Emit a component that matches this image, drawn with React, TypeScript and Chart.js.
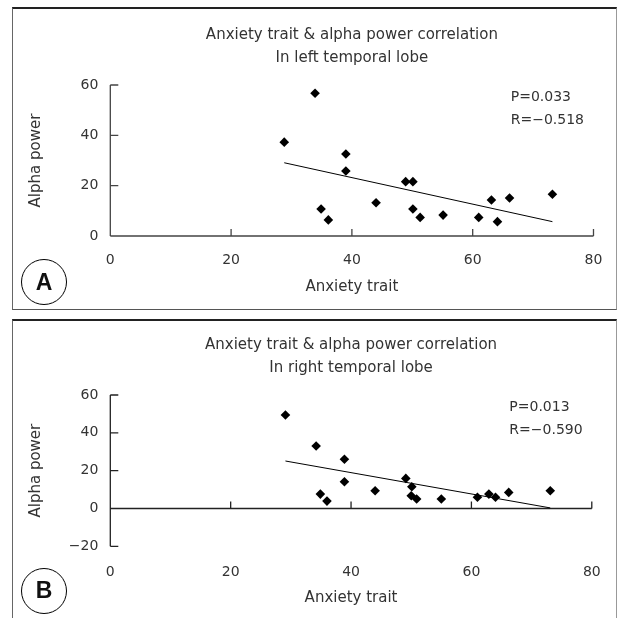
import React, { useEffect, useRef } from 'react';
import { Chart, registerables } from 'chart.js';

Chart.register(...registerables);

// ---------- data ----------
const leftX = [28.8, 33.9, 39.0, 39.0, 34.9, 36.1, 44.0, 48.9, 50.1, 50.1, 51.3, 55.1, 61.0, 63.1, 64.1, 66.1, 73.2];
const leftY = [37.3, 56.7, 32.6, 25.8, 10.7, 6.4, 13.2, 21.6, 21.6, 10.7, 7.4, 8.3, 7.4, 14.3, 5.7, 15.1, 16.6];
const leftTrendX = [28.8, 73.2];
const leftTrendY = [29.1, 5.7];

const rightX = [29.1, 34.2, 38.9, 38.9, 34.9, 36.0, 44.0, 49.1, 50.1, 50.0, 50.9, 55.0, 61.0, 62.9, 64.0, 66.2, 73.1];
const rightY = [49.4, 33.0, 26.0, 14.1, 7.6, 3.9, 9.4, 15.9, 11.5, 6.7, 5.0, 5.0, 5.9, 7.6, 5.9, 8.5, 9.4];
const rightTrendX = [29.1, 73.1];
const rightTrendY = [25.1, 0.3];

const titleLine1 = 'Anxiety trait & alpha power correlation';
const leftTitle2 = 'In left temporal lobe';
const rightTitle2 = 'In right temporal lobe';
const leftStats = ['P=0.033', 'R=\u22120.518'];
const rightStats = ['P=0.013', 'R=\u22120.590'];
const xTitle = 'Anxiety trait';
const yTitle = 'Alpha power';
const xRange = [0, 80];
const leftYRange = [0, 60];
const rightYRange = [-20, 60];
const tickStep = 20;
const statsX = 66.3;

const FONT = '"DejaVu Sans", "Liberation Sans", sans-serif';
const TEXT = '#333';

const toPts = (xs: number[], ys: number[]) => xs.map((x, i) => ({ x, y: ys[i] }));

const axesPlugin = {
  id: 'customAxes',
  beforeDatasetsDraw(chart: any, _args: any, opts: any) {
    const { ctx } = chart;
    const x = chart.scales.x;
    const y = chart.scales.y;
    const x0 = x.getPixelForValue(x.min);
    const y0 = y.getPixelForValue(0);
    ctx.save();
    ctx.strokeStyle = opts.color;
    ctx.lineWidth = opts.width;
    ctx.beginPath();
    ctx.moveTo(x0, y.getPixelForValue(y.max));
    ctx.lineTo(x0, y.getPixelForValue(y.min));
    ctx.moveTo(x0, y0);
    ctx.lineTo(x.getPixelForValue(x.max), y0);
    y.ticks.forEach((t: any) => {
      const py = y.getPixelForValue(t.value);
      ctx.moveTo(x0, py);
      ctx.lineTo(x0 + 8, py);
    });
    x.ticks.forEach((t: any) => {
      if (t.value === x.min) return;
      const px = x.getPixelForValue(t.value);
      ctx.moveTo(px, y0);
      ctx.lineTo(px, y0 - 7);
    });
    ctx.stroke();
    ctx.restore();
  },
};

const textPlugin = {
  id: 'panelText',
  afterDraw(chart: any, _args: any, opts: any) {
    const { ctx, chartArea } = chart;
    const x = chart.scales.x;
    ctx.save();
    ctx.fillStyle = TEXT;
    ctx.textBaseline = 'middle';
    ctx.textAlign = 'center';
    ctx.font = `15px ${FONT}`;
    const cx = (chartArea.left + chartArea.right) / 2;
    ctx.fillText(opts.title[0], cx, chartArea.top - 49.5);
    ctx.fillText(opts.title[1], cx, chartArea.top - 27);
    ctx.textAlign = 'left';
    ctx.font = `14px ${FONT}`;
    const sx = x.getPixelForValue(statsX);
    ctx.fillText(opts.stats[0], sx, chartArea.top + 12.5);
    ctx.fillText(opts.stats[1], sx, chartArea.top + 35);
    ctx.restore();
  },
};

type PanelProps = {
  top: number;
  height: number;
  xs: number[];
  ys: number[];
  tx: number[];
  ty: number[];
  yRange: number[];
  title2: string;
  stats: string[];
  padTop: number;
  xScaleHeight: number;
  xTickPad: number;
  xTitlePad: number;
  axisColor: string;
};

function Panel(p: PanelProps) {
  const ref = useRef<HTMLCanvasElement>(null);
  useEffect(() => {
    if (!ref.current) return;
    const tickFont = { family: FONT, size: 14 };
    const titleFont = { family: FONT, size: 15, lineHeight: 1.2 };
    const chart = new Chart(ref.current, {
      type: 'scatter',
      data: {
        datasets: [
          {
            data: toPts(p.tx, p.ty),
            showLine: true,
            borderColor: '#000',
            borderWidth: 1,
            pointRadius: 0,
            pointHoverRadius: 0,
            order: 2,
          },
          {
            data: toPts(p.xs, p.ys),
            pointStyle: 'rectRot',
            pointRadius: 4.8,
            pointHoverRadius: 4.8,
            backgroundColor: '#000',
            borderColor: '#000',
            borderWidth: 0,
            order: 1,
          },
        ],
      },
      options: {
        responsive: false,
        animation: false,
        devicePixelRatio: 1,
        events: [],
        layout: { padding: { left: 0, right: 22, top: p.padTop, bottom: 0 } },
        plugins: {
          legend: { display: false },
          tooltip: { enabled: false },
          title: { display: false },
          customAxes: { color: p.axisColor, width: 1.3 },
          panelText: { title: [titleLine1, p.title2], stats: p.stats },
        } as any,
        scales: {
          x: {
            type: 'linear',
            min: xRange[0],
            max: xRange[1],
            ticks: { stepSize: tickStep, padding: p.xTickPad, font: tickFont, color: TEXT },
            grid: { display: false, drawTicks: false },
            border: { display: false },
            title: {
              display: true,
              text: xTitle,
              font: titleFont,
              color: TEXT,
              padding: { top: 0, bottom: p.xTitlePad },
            },
            afterFit: (s: any) => {
              s.height = p.xScaleHeight;
            },
          },
          y: {
            type: 'linear',
            min: p.yRange[0],
            max: p.yRange[1],
            ticks: {
              stepSize: tickStep,
              padding: 12,
              font: tickFont,
              color: TEXT,
              callback: (v: any) => (v < 0 ? '\u2212' + Math.abs(v) : String(v)),
            },
            grid: { display: false, drawTicks: false },
            border: { display: false },
            title: {
              display: true,
              text: yTitle,
              font: titleFont,
              color: TEXT,
              padding: { top: 27.5, bottom: 0 },
            },
            afterFit: (s: any) => {
              s.width = 110.3;
            },
          },
        },
      } as any,
      plugins: [axesPlugin, textPlugin],
    });
    return () => chart.destroy();
  }, []);
  return (
    <canvas
      ref={ref}
      width={618}
      height={p.height}
      style={{ position: 'absolute', left: 0, top: p.top, width: 618, height: p.height }}
    />
  );
}

const circleStyle = (top: number): React.CSSProperties => ({
  position: 'absolute',
  left: 21,
  top,
  width: 46,
  height: 46,
  boxSizing: 'border-box',
  border: '1px solid #000',
  borderRadius: '50%',
  display: 'flex',
  alignItems: 'center',
  justifyContent: 'center',
  fontFamily: '"Liberation Sans", Arial, sans-serif',
  fontWeight: 'bold',
  fontSize: 23,
  color: '#111',
  lineHeight: 1,
});

export default function App() {
  return (
    <div
      style={{
        position: 'fixed',
        left: 0,
        top: 0,
        width: 618,
        height: 618,
        background: '#fff',
        overflow: 'hidden',
      }}
    >
      <div
        style={{
          position: 'absolute',
          left: 12,
          top: 7,
          width: 605,
          height: 303,
          boxSizing: 'border-box',
          borderTop: '2px solid #222',
          borderLeft: '1.5px solid #666',
          borderRight: '1px solid #999',
          borderBottom: '1.5px solid #555',
        }}
      />
      <div
        style={{
          position: 'absolute',
          left: 12,
          top: 319,
          width: 605,
          height: 320,
          boxSizing: 'border-box',
          borderTop: '2px solid #222',
          borderLeft: '1.5px solid #666',
          borderRight: '1px solid #999',
        }}
      />
      <Panel
        top={0}
        height={312}
        xs={leftX}
        ys={leftY}
        tx={leftTrendX}
        ty={leftTrendY}
        yRange={leftYRange}
        title2={leftTitle2}
        stats={leftStats}
        padTop={85}
        xScaleHeight={76}
        xTickPad={15.6}
        xTitlePad={16}
        axisColor="#444"
      />
      <Panel
        top={312}
        height={306}
        xs={rightX}
        ys={rightY}
        tx={rightTrendX}
        ty={rightTrendY}
        yRange={rightYRange}
        title2={rightTitle2}
        stats={rightStats}
        padTop={83}
        xScaleHeight={71.7}
        xTickPad={17.3}
        xTitlePad={11}
        axisColor="#222"
      />
      <div style={circleStyle(259)}>A</div>
      <div style={circleStyle(567.5)}>B</div>
    </div>
  );
}
